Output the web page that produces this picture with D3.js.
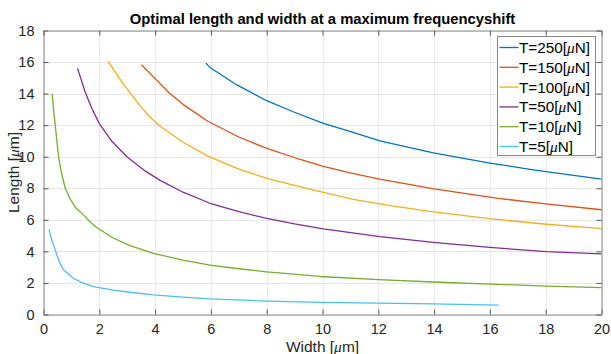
<!DOCTYPE html>
<html>
<head>
<meta charset="utf-8">
<script src="https://cdn.jsdelivr.net/npm/d3@7"></script>
<style>
  body { margin: 0; background: #fff; }
  svg { display: block; font-family: Arial, "Liberation Sans", Helvetica, sans-serif; }
</style>
</head>
<body>
<div id="container"></div>
<script>
// values: [width um, length um]
const tensions = [250, 150, 100, 50, 10, 5]
const seriesColors = ["#0072BD", "#D95319", "#EDB120", "#7E2F8E", "#77AC30", "#4DBEEE"]

const curveT250 = [[5.82, 15.93], [5.97, 15.65], [6.93, 14.55], [8.0, 13.55], [8.95, 12.85], [10.03, 12.12],
  [10.98, 11.6], [12.06, 11.0], [13.97, 10.24], [16.0, 9.6], [17.55, 9.17], [20.0, 8.58]]
const curveT150 = [[3.51, 15.83], [3.81, 15.3], [4.5, 14.05], [5.0, 13.32], [5.89, 12.25], [7.0, 11.25], [7.98, 10.54],
  [9.17, 9.84], [10.0, 9.4], [10.95, 8.99], [12.0, 8.6], [14.0, 7.96], [16.3, 7.36], [18.0, 7.01], [20.0, 6.64]]
const curveT100 = [[2.32, 16.04], [2.86, 14.6], [3.45, 13.25], [3.82, 12.5], [4.17, 11.95], [5.0, 10.92], [5.91, 10.02],
  [7.0, 9.22], [8.0, 8.63], [9.43, 8.0], [11.1, 7.3], [12.5, 6.88], [13.97, 6.5], [16.0, 6.07], [18.03, 5.72], [20.0, 5.44]]
const curveT50 = [[1.22, 15.6], [1.49, 14.12], [1.73, 13.07], [2.0, 12.1], [2.45, 10.98], [2.99, 10.0], [3.64, 9.1],
  [4.18, 8.5], [5.0, 7.75], [5.97, 7.05], [7.0, 6.52], [8.0, 6.09], [9.0, 5.74], [10.03, 5.43], [12.06, 4.94],
  [13.97, 4.57], [16.0, 4.25], [18.03, 3.98], [20.0, 3.84]]
const curveT10 = [[0.31, 14.0], [0.36, 13.0], [0.42, 12.0], [0.48, 11.0], [0.54, 10.0], [0.64, 9.0], [0.78, 8.0],
  [0.95, 7.35], [1.17, 6.73], [1.37, 6.41], [1.79, 5.67], [2.0, 5.4], [2.5, 4.85], [3.1, 4.36], [3.94, 3.87],
  [5.0, 3.45], [5.97, 3.13], [7.0, 2.9], [8.0, 2.7], [9.91, 2.41], [12.0, 2.21], [13.97, 2.06], [16.0, 1.93],
  [18.0, 1.8], [20.0, 1.7]]
const curveT5 = [[0.2, 5.4], [0.27, 4.9], [0.36, 4.4], [0.54, 3.45], [0.71, 2.85], [1.07, 2.3], [1.4, 2.0],
  [1.79, 1.77], [2.5, 1.55], [3.1, 1.41], [3.94, 1.24], [5.0, 1.1], [5.97, 0.99], [8.0, 0.85], [9.91, 0.77],
  [12.0, 0.72], [13.97, 0.67], [16.31, 0.6]]
const curves = [curveT250, curveT150, curveT100, curveT50, curveT10, curveT5]

const xTicks = [0, 2, 4, 6, 8, 10, 12, 14, 16, 18, 20]
const yTicks = [0, 2, 4, 6, 8, 10, 12, 14, 16, 18]

const width = 611
const height = 354
const margin = { top: 30.5, right: 9.5, bottom: 39.5, left: 43.5 }
const axisColor = "#262626"
const muFont = "'Times New Roman', 'Liberation Serif', serif"

const svg = d3.select("#container").append("svg")
  .attr("width", width).attr("height", height)

const x = d3.scaleLinear().domain([0, 20]).range([margin.left, width - margin.right])
const y = d3.scaleLinear().domain([0, 18]).range([height - margin.bottom, margin.top])

// grid
const grid = svg.append("g").attr("stroke", "#e6e6e6").attr("stroke-width", 1)
grid.selectAll(".gx").data(xTicks).join("line")
  .attr("x1", d => Math.round(x(d)) + 0.5).attr("x2", d => Math.round(x(d)) + 0.5)
  .attr("y1", y(0)).attr("y2", y(18))
grid.selectAll(".gy").data(yTicks).join("line")
  .attr("y1", d => Math.round(y(d)) + 0.5).attr("y2", d => Math.round(y(d)) + 0.5)
  .attr("x1", x(0)).attr("x2", x(20))

// curves
const line = d3.line().x(d => x(d[0])).y(d => y(d[1]))
svg.append("g").selectAll("path").data(curves).join("path")
  .attr("d", line)
  .attr("fill", "none")
  .attr("stroke", (d, i) => seriesColors[i])
  .attr("stroke-width", 1.3)
  .attr("stroke-linejoin", "round")

// axes, ticks inward, box on
const tickLen = 5
const xb = d3.axisBottom(x).tickValues(xTicks).tickSizeInner(-tickLen).tickSizeOuter(0).tickPadding(9)
const yl = d3.axisLeft(y).tickValues(yTicks).tickSizeInner(-tickLen).tickSizeOuter(0).tickPadding(9)
const xt = d3.axisTop(x).tickValues(xTicks).tickSizeInner(-tickLen).tickSizeOuter(0).tickFormat("")
const yr = d3.axisRight(y).tickValues(yTicks).tickSizeInner(-tickLen).tickSizeOuter(0).tickFormat("")

const styleAxis = g => {
  g.select(".domain").attr("stroke", "#8a8a8a")
  g.selectAll(".tick line").attr("stroke", "#555")
  g.selectAll(".tick text").attr("fill", axisColor).attr("font-size", 14.5)
    .attr("font-family", "Arial, 'Liberation Sans', sans-serif")
}
svg.append("g").attr("transform", `translate(0,${y(0)})`).call(xb).call(styleAxis)
svg.append("g").attr("transform", `translate(${x(0)},0)`).call(yl).call(styleAxis)
svg.append("g").attr("transform", `translate(0,${y(18)})`).call(xt).call(styleAxis)
svg.append("g").attr("transform", `translate(${x(20)},0)`).call(yr).call(styleAxis)

// title and labels
svg.append("text")
  .attr("x", (x(0) + x(20)) / 2).attr("y", 24)
  .attr("text-anchor", "middle").attr("font-weight", "bold").attr("font-size", 14.8)
  .attr("fill", "#000")
  .text("Optimal length and width at a maximum frequencyshift")

const xLabel = svg.append("text")
  .attr("x", (x(0) + x(20)) / 2).attr("y", 351.5)
  .attr("text-anchor", "middle").attr("font-size", 15.5).attr("fill", axisColor)
xLabel.append("tspan").text("Width [")
xLabel.append("tspan").attr("font-style", "italic").attr("font-family", muFont).text("\u03bc")
xLabel.append("tspan").text("m]")

const yLabel = svg.append("text")
  .attr("transform", `translate(18.5,${(y(0) + y(18)) / 2}) rotate(-90)`)
  .attr("text-anchor", "middle").attr("font-size", 15.5).attr("fill", axisColor)
yLabel.append("tspan").text("Length [")
yLabel.append("tspan").attr("font-style", "italic").attr("font-family", muFont).text("\u03bc")
yLabel.append("tspan").text("m]")

// legend
const legend = svg.append("g").attr("transform", "translate(497.5,36.5)")
legend.append("rect")
  .attr("width", 98).attr("height", 119)
  .attr("fill", "#fff").attr("stroke", "#8a8a8a").attr("stroke-width", 1)
const rows = legend.selectAll(".row").data(tensions).join("g")
  .attr("transform", (d, i) => `translate(0,${11 + i * 19.8})`)
rows.append("line")
  .attr("x1", 2).attr("x2", 21)
  .attr("stroke", (d, i) => seriesColors[i]).attr("stroke-width", 1.3)
const rowText = rows.append("text")
  .attr("x", 21.5).attr("y", 5.5).attr("font-size", 15.3).attr("fill", "#000")
rowText.append("tspan").text(d => `T=${d}[`)
rowText.append("tspan").attr("font-style", "italic").attr("font-family", muFont).text("\u03bc")
rowText.append("tspan").text("N]")
</script>
</body>
</html>
